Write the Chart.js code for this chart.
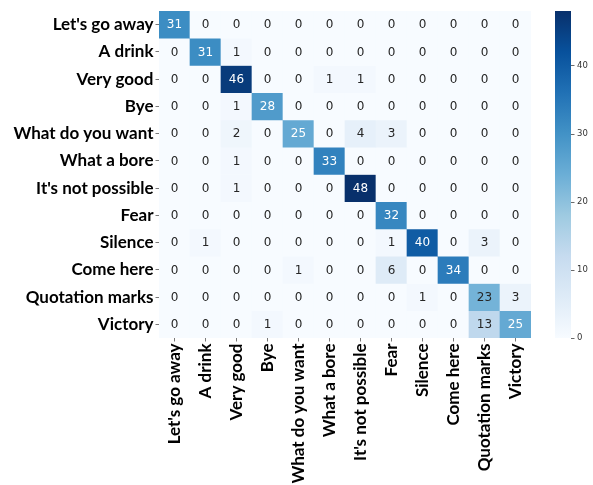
<!DOCTYPE html>
<html><head><meta charset="utf-8">
<script src="https://cdn.jsdelivr.net/npm/chart.js@4/dist/chart.umd.min.js"></script>
<style>html,body{margin:0;padding:0;background:#fff}#wrap{width:593px;height:485px}</style>
</head><body><div id="wrap"><canvas id="c" width="593" height="485"></canvas></div>
<script>
const classNames = ["Let's go away","A drink","Very good","Bye","What do you want","What a bore","It's not possible","Fear","Silence","Come here","Quotation marks","Victory"];
const counts = [
  [31,0,0,0,0,0,0,0,0,0,0,0],
  [0,31,1,0,0,0,0,0,0,0,0,0],
  [0,0,46,0,0,1,1,0,0,0,0,0],
  [0,0,1,28,0,0,0,0,0,0,0,0],
  [0,0,2,0,25,0,4,3,0,0,0,0],
  [0,0,1,0,0,33,0,0,0,0,0,0],
  [0,0,1,0,0,0,48,0,0,0,0,0],
  [0,0,0,0,0,0,0,32,0,0,0,0],
  [0,1,0,0,0,0,0,1,40,0,3,0],
  [0,0,0,0,1,0,0,6,0,34,0,0],
  [0,0,0,0,0,0,0,0,1,0,23,3],
  [0,0,0,1,0,0,0,0,0,0,13,25]
];
const colorbarTicks = [0,10,20,30,40];
const vmin = 0, vmax = 48;

const blues = ["#f7fbff","#deebf7","#c6dbef","#9ecae1","#6baed6","#4292c6","#2171b5","#08519c","#08306b"];
function hex(h){return [parseInt(h.slice(1,3),16),parseInt(h.slice(3,5),16),parseInt(h.slice(5,7),16)];}
function cmap(v){
  let t=Math.max(0,Math.min(1,(v-vmin)/(vmax-vmin)))*(blues.length-1);
  let i=Math.min(Math.floor(t),blues.length-2), f=t-i;
  const a=hex(blues[i]), b=hex(blues[i+1]);
  return a.map((x,k)=>Math.round(x+(b[k]-x)*f));
}
function rgb(c){return `rgb(${c[0]},${c[1]},${c[2]})`;}
function lum(c){
  const l=c.map(x=>{x/=255;return x<=0.03928?x/12.92:Math.pow((x+0.055)/1.055,2.4);});
  return 0.2126*l[0]+0.7152*l[1]+0.0722*l[2];
}

const datasets = counts.map((row,r)=>({
  label: classNames[r],
  data: row.map(()=>[r-0.5,r+0.5]),
  backgroundColor: row.map(v=>rgb(cmap(v))),
  borderWidth:0,
  barPercentage:1, categoryPercentage:1, grouped:false
}));

const labelFont = {family:'Lato', weight:'bold', size:17};

const heatPlugin = {
  id:'heat',
  afterDatasetsDraw(chart){
    const ctx=chart.ctx, xs=chart.scales.x, ys=chart.scales.y;
    ctx.save();
    ctx.font='12px "DejaVu Sans"';
    ctx.textAlign='center'; ctx.textBaseline='middle';
    counts.forEach((row,r)=>row.forEach((v,c)=>{
      const col=cmap(v);
      ctx.fillStyle = lum(col)>0.408 ? '#262626' : '#ffffff';
      ctx.fillText(String(v), xs.getPixelForValue(c), ys.getPixelForValue(r)+0.5);
    }));
    // colorbar
    const cb=chart.scales.cb;
    const x0=cb.left+24, w=16;
    const yTop=cb.getPixelForValue(vmax), yBot=cb.getPixelForValue(vmin);
    const g=ctx.createLinearGradient(0,yBot,0,yTop);
    blues.forEach((b,i)=>g.addColorStop(i/(blues.length-1),b));
    ctx.fillStyle=g;
    ctx.fillRect(x0,yTop,w,yBot-yTop);
    ctx.strokeStyle='#444'; ctx.lineWidth=0.8;
    colorbarTicks.forEach(t=>{
      const y=Math.round(cb.getPixelForValue(t))+0.5;
      ctx.beginPath(); ctx.moveTo(x0+w,y); ctx.lineTo(x0+w+3.5,y); ctx.stroke();
    });
    ctx.restore();
  }
};

new Chart(document.getElementById('c'),{
  type:'bar',
  data:{labels:classNames, datasets},
  options:{
    responsive:false, animation:false, maintainAspectRatio:false,
    layout:{padding:{top:11,left:0,right:0,bottom:0}},
    plugins:{legend:{display:false},tooltip:{enabled:false}},
    scales:{
      x:{
        type:'category', offset:true,
        grid:{display:true, offset:false, drawOnChartArea:false, drawTicks:true, tickLength:3.5, color:'#555', lineWidth:0.8},
        border:{display:false},
        ticks:{color:'#000', font:labelFont, maxRotation:90, minRotation:90, autoSkip:false, padding:2},
        afterFit(s){s.height=147; s.paddingLeft=0; s.paddingRight=0;}
      },
      y:{
        type:'linear', min:-0.5, max:11.5, reverse:true,
        afterBuildTicks(s){s.ticks=classNames.map((_,i)=>({value:i}));},
        grid:{display:true, drawOnChartArea:false, drawTicks:true, tickLength:3.5, color:'#555', lineWidth:0.8},
        border:{display:false},
        ticks:{color:'#000', font:labelFont, autoSkip:false, padding:2, callback:(v)=>classNames[v]},
        afterFit(s){s.width=159; s.paddingTop=0; s.paddingBottom=0;}
      },
      cb:{
        type:'linear', position:'right', min:vmin, max:vmax,
        afterBuildTicks(s){s.ticks=colorbarTicks.map(v=>({value:v}));},
        grid:{display:false, drawOnChartArea:false, drawTicks:false},
        border:{display:false},
        ticks:{color:'#333', font:{family:'DejaVu Sans', size:8.5}, padding:46},
        afterFit(s){s.width=62; s.paddingTop=0; s.paddingBottom=0;}
      }
    }
  },
  plugins:[heatPlugin]
});
</script></body></html>
